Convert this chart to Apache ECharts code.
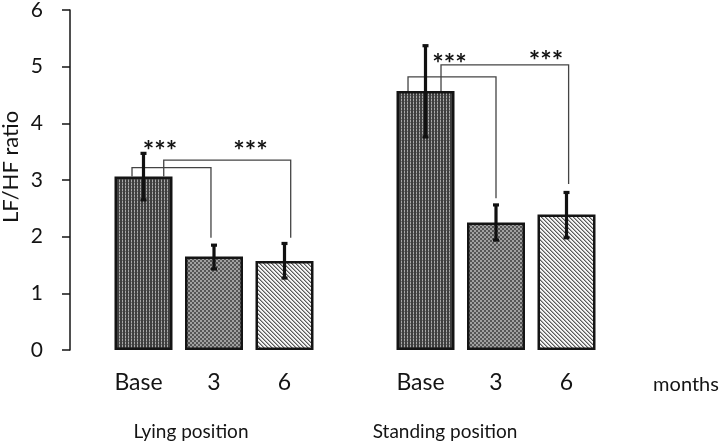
<!DOCTYPE html>
<html>
<head>
<meta charset="utf-8">
<script src="https://cdn.jsdelivr.net/npm/echarts@6/dist/echarts.min.js"></script>
<style>html,body{margin:0;padding:0;background:#fff;}#c{width:720px;height:447px;}</style>
</head>
<body>
<div id="c"></div>
<script>
// ---- data ----
const categories = ['Base', '3', '6', '', 'Base', '3', '6'];
const barValues = [3.06, 1.65, 1.57, null, 4.57, 2.25, 2.39];
const errLow  = [2.65, 1.43, 1.27, null, 3.76, 1.94, 1.98];
const errHigh = [3.47, 1.85, 1.88, null, 5.37, 2.56, 2.78];
const patternIndex = [0, 1, 2, null, 0, 1, 2];
const yTickValues = [0, 1, 2, 3, 4, 5, 6];
// significance brackets (x in slot units, y in data units)
const bracketLeftX  = [0.337, 0.787, 4.252, 4.72];
const bracketRightX = [1.457, 2.588, 5.5, 6.53];
const bracketLeftY  = [3.06, 3.06, 4.57, 4.57];
const bracketTopY   = [3.22, 3.35, 4.82, 5.03];
const bracketRightY = [1.98, 1.98, 2.68, 2.93];
const starX = [0.734, 2.018, 4.84, 6.209];
const starY = [3.65, 3.65, 5.18, 5.24];
const starText = ['***', '***', '***', '***'];
const groupLabels = ['Lying position', 'Standing position'];
const unitLabel = 'months';
const yName = 'LF/HF ratio';

// ---- patterns ----
function makePattern(w, h, draw) {
  const c = document.createElement('canvas');
  c.width = w; c.height = h;
  const ctx = c.getContext('2d');
  draw(ctx);
  return { image: c, repeat: 'repeat' };
}
function px(ctx, x, y, col) { ctx.fillStyle = col; ctx.fillRect(x, y, 1, 1); }
const patterns = [
  makePattern(3, 3, ctx => {
    ctx.fillStyle = '#3e3e3e'; ctx.fillRect(0, 0, 3, 3);
    px(ctx, 2, 0, '#a8a8a8'); px(ctx, 2, 1, '#a8a8a8'); px(ctx, 2, 2, '#6a6a6a');
  }),
  makePattern(4, 4, ctx => {
    ctx.fillStyle = '#555'; ctx.fillRect(0, 0, 4, 4);
    ctx.fillStyle = '#a0a0a0'; ctx.fillRect(0, 0, 2, 2); ctx.fillRect(2, 2, 2, 2);
  }),
  makePattern(4, 4, ctx => {
    ctx.fillStyle = '#f4f4f4'; ctx.fillRect(0, 0, 4, 4);
    for (let i = 0; i < 4; i++) { px(ctx, i, i, '#5a5a5a'); px(ctx, (i + 1) % 4, i, '#a8a8a8'); }
  })
];

const FONT = 'Lato';
const TXT = '#141414';
const chart = echarts.init(document.getElementById('c'), null, { renderer: 'canvas' });

const barData = barValues.map((v, i) => v == null ? null : {
  value: v,
  itemStyle: { color: patterns[patternIndex[i]] }
});
const errData = barValues.map((v, i) => v == null ? null : [i + 0.5, errLow[i], errHigh[i]]).filter(d => d);
const bracketData = bracketLeftX.map((x, i) => [x, bracketRightX[i], bracketLeftY[i], bracketTopY[i], bracketRightY[i]]);
const starData = starX.map((x, i) => [x, starY[i], starText[i]]);

const option = {
  animation: false,
  grid: [
    { left: 70, right: 118.25, top: 10, bottom: 97, containLabel: false, outerBoundsMode: 'none' },
    { left: 108.25, right: 118.25, top: 10, bottom: 97, containLabel: false, outerBoundsMode: 'none' }
  ],
  xAxis: [{
    gridIndex: 1, type: 'category', data: categories,
    axisLine: { show: false }, axisTick: { show: false },
    axisLabel: {
      margin: 21, fontSize: 23, fontFamily: FONT, color: TXT, interval: 0,
      formatter: v => v === 'Base' ? '{b|Base}' : v,
      rich: { b: { fontSize: 23, fontFamily: FONT, color: TXT, padding: [0, 10, 0, 0] } }
    }
  }, {
    gridIndex: 1, type: 'value', min: 0, max: 7, show: false
  }, {
    gridIndex: 0, type: 'value', min: 0, max: 1, show: false
  }],
  yAxis: [{
    gridIndex: 0, type: 'value', min: 0, max: 6, interval: 1,
    axisLine: { show: true, lineStyle: { color: TXT, width: 1.5 } },
    axisTick: { show: true, inside: false, length: 8, lineStyle: { color: TXT, width: 1.5 } },
    splitLine: { show: false },
    axisLabel: { margin: 27, fontSize: 21, fontFamily: FONT, color: TXT,
      formatter: v => yTickValues.includes(v) ? String(v) : '' }
  }, {
    gridIndex: 1, type: 'value', min: 0, max: 6, interval: 1, show: false
  }],
  series: [{
    type: 'bar', xAxisIndex: 0, yAxisIndex: 1, data: barData, barWidth: 58,
    itemStyle: { borderColor: TXT, borderWidth: 2.5 }
  }, {
    type: 'custom', xAxisIndex: 1, yAxisIndex: 1, data: errData, z: 5,
    renderItem: (params, api) => {
      const x = api.value(0);
      const lo = api.coord([x, api.value(1)]);
      const hi = api.coord([x, api.value(2)]);
      const cw = 3;
      const st = { stroke: '#111', lineWidth: 3.2 };
      return { type: 'group', children: [
        { type: 'line', shape: { x1: lo[0], y1: lo[1], x2: hi[0], y2: hi[1] }, style: st },
        { type: 'line', shape: { x1: hi[0] - cw, y1: hi[1], x2: hi[0] + cw, y2: hi[1] }, style: st },
        { type: 'line', shape: { x1: lo[0] - cw, y1: lo[1], x2: lo[0] + cw, y2: lo[1] }, style: st }
      ]};
    }
  }, {
    type: 'custom', xAxisIndex: 1, yAxisIndex: 1, data: bracketData, z: 4,
    renderItem: (params, api) => {
      const p1 = api.coord([api.value(0), api.value(2)]);
      const p2 = api.coord([api.value(0), api.value(3)]);
      const p3 = api.coord([api.value(1), api.value(3)]);
      const p4 = api.coord([api.value(1), api.value(4)]);
      return { type: 'polyline', shape: { points: [p1, p2, p3, p4] },
        style: { stroke: '#444', lineWidth: 1.3, fill: null } };
    }
  }, {
    type: 'custom', xAxisIndex: 1, yAxisIndex: 1, data: starData, z: 6,
    renderItem: (params, api) => {
      const p = api.coord([api.value(0), api.value(1)]);
      return { type: 'text', x: p[0], y: p[1] + 8,
        style: { text: starText[params.dataIndex], fontSize: 27, fontWeight: 'bold', fontFamily: FONT, fill: TXT,
          align: 'center', verticalAlign: 'middle' } };
    }
  }],
  graphic: [
    { type: 'text', x: 11, y: 167, rotation: Math.PI / 2,
      style: { text: yName, fontSize: 22, fontFamily: FONT, fill: TXT, align: 'center', verticalAlign: 'middle' } },
    { type: 'text', x: 191, y: 432,
      style: { text: groupLabels[0], fontSize: 19, fontFamily: FONT, fill: TXT, align: 'center', verticalAlign: 'middle' } },
    { type: 'text', x: 445, y: 432,
      style: { text: groupLabels[1], fontSize: 19, fontFamily: FONT, fill: TXT, align: 'center', verticalAlign: 'middle' } },
    { type: 'text', x: 686, y: 385,
      style: { text: unitLabel, fontSize: 20, fontFamily: FONT, fill: TXT, align: 'center', verticalAlign: 'middle' } }
  ]
};
chart.setOption(option);
</script>
</body>
</html>
